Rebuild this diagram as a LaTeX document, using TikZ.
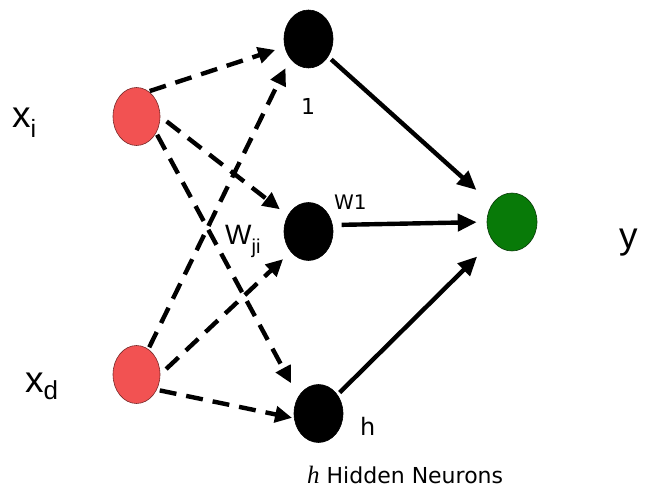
\documentclass[tikz,border=0pt]{standalone}
\usepackage{fontspec}
\setmainfont{DejaVu Sans}
\newfontfamily\lblfont{Liberation Sans}
\newfontfamily\seriffont{Liberation Serif}
\usetikzlibrary{arrows.meta,shapes.geometric}
\definecolor{inred}{RGB}{242,82,82}
\definecolor{inedge}{RGB}{120,40,40}
\definecolor{outgreen}{RGB}{8,122,8}
\definecolor{outedge}{RGB}{10,60,10}
\tikzset{
  neuron/.style={ellipse, inner sep=0pt, line width=0.6pt},
  inputn/.style={neuron, fill=inred, draw=inedge, minimum width=47pt, minimum height=58pt},
  hiddenn/.style={neuron, fill=black, draw=black, minimum width=49pt, minimum height=58pt},
  outputn/.style={neuron, fill=outgreen, draw=outedge, minimum width=50pt, minimum height=58pt},
  weight/.style={line width=4.4pt, dash pattern=on 17pt off 10pt, -{Triangle[length=17pt,width=16pt]}},
  forward/.style={line width=4.4pt, -{Triangle[length=19pt,width=17pt]}},
  lbl/.style={inner sep=0pt, anchor=base west},
}
\begin{document}
\begin{tikzpicture}[x=1pt,y=-1pt]
\useasboundingbox (0,0) rectangle (651,489);

% neurons
\node[inputn]  (xi)  at (136.5,116.5) {};
\node[inputn]  (xd)  at (136.5,374.5) {};
\node[hiddenn] (n1)  at (308.5,39)    {};
\node[hiddenn] (nw)  at (308.5,231.5) {};
\node[hiddenn] (nh)  at (318.5,413.5) {};
\node[outputn] (out) at (512,222)     {};

% input-to-hidden weights
\draw[weight, shorten <=1pt, shorten >=10pt]   (xi.64)  -- (n1);
\draw[weight, shorten <=8pt, shorten >=10pt]   (xi.east) -- (nw);
\draw[weight, shorten <=2pt, shorten >=15pt]   (xi.-40) -- (nh.140);
\draw[weight, shorten <=2pt, shorten >=10.5pt] (xd.65)  -- (n1.227);
\draw[weight, shorten <=8pt, shorten >=10.5pt] (xd.east) -- (nw.229);
\draw[weight, shorten <=3pt, shorten >=2pt]    (xd.-37) -- (nh.191);

% hidden-to-output connections
\draw[forward, shorten <=4pt, shorten >=21pt] (n1) -- (out);
\draw[forward, shorten <=9pt, shorten >=10pt] (nw.15) -- (out.west);
\draw[forward, shorten <=3pt, shorten >=22pt] (nh) -- (out);

% labels
\node[lbl] (lxi) at (12,128) {\lblfont\fontsize{37}{40}\selectfont x\raisebox{-10pt}{\fontsize{25}{28}\selectfont i}};
\node[lbl] (lxd) at (25,392) {\lblfont\fontsize{37}{40}\selectfont x\raisebox{-7pt}{\fontsize{26}{28}\selectfont d}};
\node[lbl] (ly)  at (619,249) {\lblfont\fontsize{37}{40}\selectfont y};
\node[lbl] (lw)  at (225,245) {\lblfont\fontsize{28}{30}\selectfont W\raisebox{-9pt}{\fontsize{20}{22}\selectfont ji}};
\node[lbl] (lw1) at (334,210) {\fontsize{20}{22}\selectfont W1};
\node[lbl] (l1)  at (301,115) {\fontsize{22}{24}\selectfont 1};
\node[lbl] (lh)  at (360,435) {\fontsize{24}{26}\selectfont h};
\node[lbl] (lhn) at (307,483) {{\seriffont\itshape\fontsize{25}{28}\selectfont h}\hspace{7pt}\fontsize{22}{24}\selectfont Hidden Neurons};
\end{tikzpicture}
\end{document}
